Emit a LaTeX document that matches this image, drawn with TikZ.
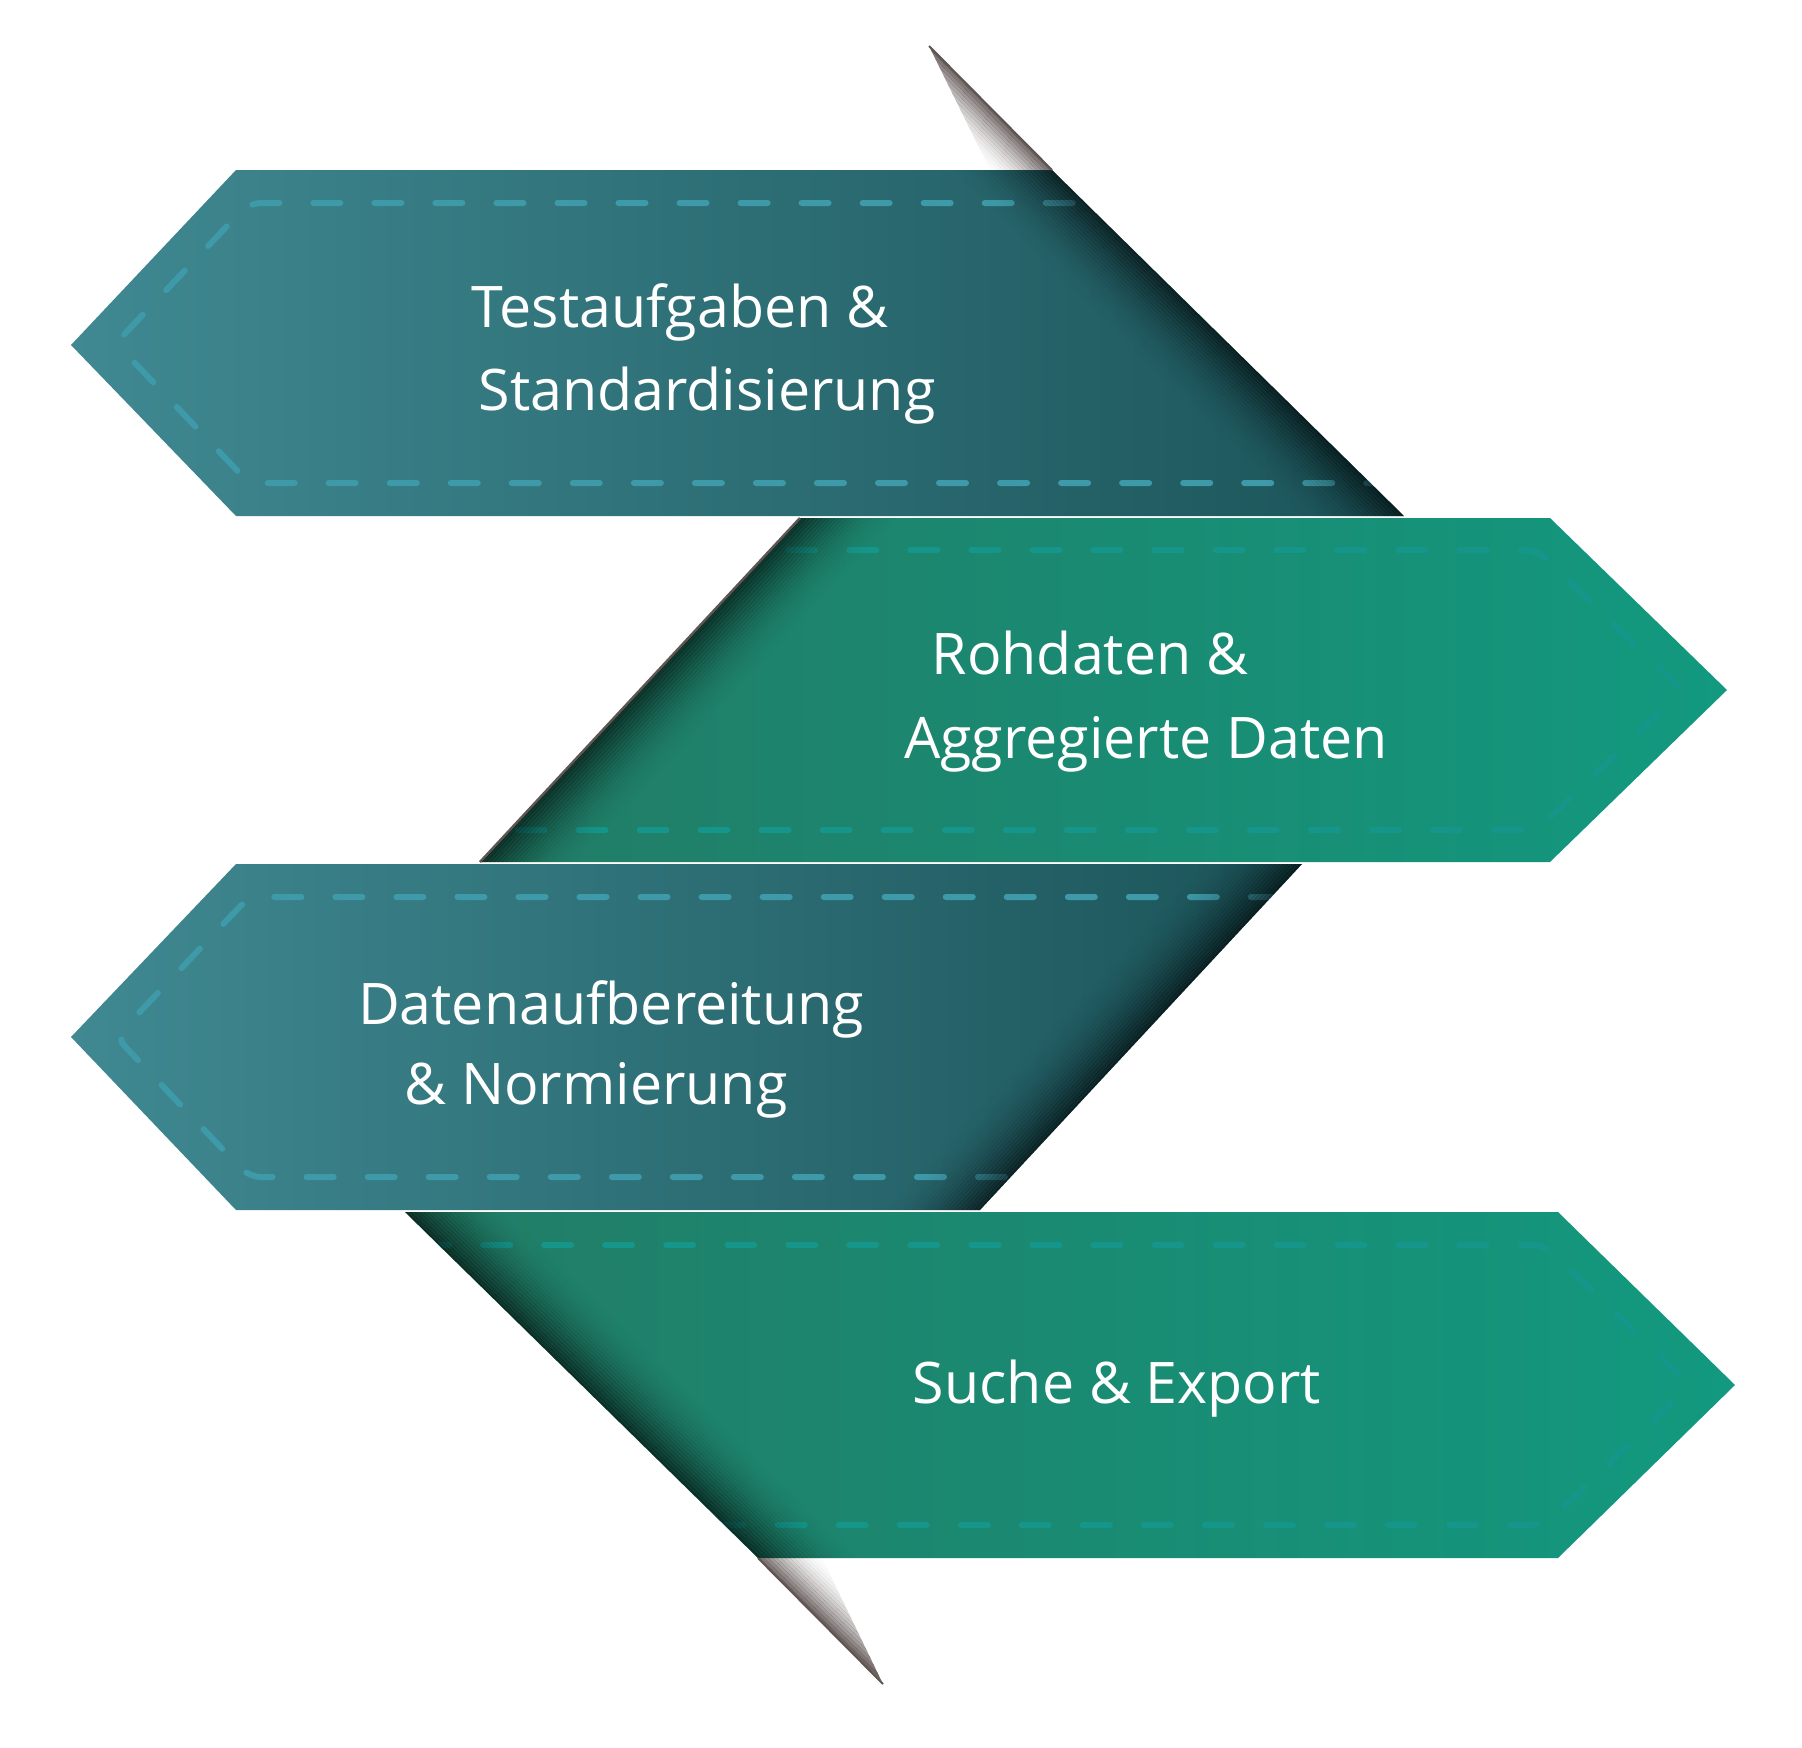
\documentclass[tikz,border=0pt]{standalone}
\usepackage{fontspec}
\setmainfont{Open Sans}
\usetikzlibrary{calc}

\definecolor{tealleft}{HTML}{408992}
\definecolor{tealmid}{HTML}{31787F}
\definecolor{tealright}{HTML}{1B5459}
\definecolor{greenleft}{HTML}{227C66}
\definecolor{greenmid}{HTML}{1F8A70}
\definecolor{greenright}{HTML}{12997F}
\definecolor{dashteal}{HTML}{3E9AA8}
\definecolor{dashgreen}{HTML}{16968A}
\definecolor{foldgray}{HTML}{5E5452}

% band outlines (pixel grid, y downwards)
\def\bandA{(71,345) -- (236,170) -- (1052,170) -- (1404,516) -- (236,516) -- cycle}
\def\bandB{(800,518) -- (1550,518) -- (1727,690) -- (1550,862) -- (480,862) -- cycle}
\def\bandC{(71,1037) -- (236,864) -- (1302,864) -- (980,1210) -- (236,1210) -- cycle}
\def\bandD{(405,1212) -- (1558,1212) -- (1735,1385) -- (1558,1558) -- (758,1558) -- cycle}

\begin{document}
\begin{tikzpicture}[
  x=0.01cm, y=-0.01cm,
  tealband/.style={left color=tealleft, middle color=tealmid, right color=tealright},
  greenband/.style={left color=greenleft, middle color=greenmid, right color=greenright},
  seam/.style={draw=#1, line width=0.06cm, line cap=round,
    dash pattern=on 0.27cm off 0.34cm, rounded corners=0.12cm},
  edgeshade/.style={black, line width=0.032cm},
  foldshade/.style={foldgray, line width=0.032cm},
  bandtext/.style={font=\fontsize{16.3}{23.6}\selectfont, text=white, anchor=base},
]

\useasboundingbox (0,0) rectangle (1802,1748);
\fill[white] (0,0) rectangle (1802,1748);

% === BAND 1 ===
\shade[tealband] \bandA;
\begin{scope}
  \clip \bandA;
  \draw[seam=dashteal] (1500,203) -- (249,203) -- (116,343) -- (249,483) -- (1500,483);
  \foreach \k [evaluate=\k as \op using {0.6*(1-\k/25)^2}] in {0,...,24}
    \draw[edgeshade, opacity=\op]
      ($(982,101)+(-2.10*\k,2.14*\k)$) -- ($(1474,585)+(-2.10*\k,2.14*\k)$);
\end{scope}

% fold above band 1
\begin{scope}
  \clip (929,46) -- (1052,170) -- (990,170) -- cycle;
  \foreach \k [evaluate=\k as \op using {0.9*(1-\k/16)^2}] in {0,...,15}
    \draw[foldshade, opacity=\op]
      ($(900,17)+(-2.10*\k,2.14*\k)$) -- ($(1080,199)+(-2.10*\k,2.14*\k)$);
\end{scope}
\draw[foldgray, line width=0.02cm] (929,46) -- (1052,170);

% === BAND 2 ===
\shade[greenband] \bandB;
\begin{scope}
  \clip \bandB;
  \draw[seam=dashgreen] (300,550) -- (1537,550) -- (1682,690) -- (1537,830) -- (300,830);
  \foreach \k [evaluate=\k as \op using {0.6*(1-\k/25)^2}] in {0,...,24}
    \draw[edgeshade, opacity=\op]
      ($(865,448)+(2.20*\k,2.04*\k)$) -- ($(416,931)+(2.20*\k,2.04*\k)$);
\end{scope}
\draw[foldgray, line width=0.025cm] (800,518) -- (480,862);

% === BAND 3 ===
\shade[tealband] \bandC;
\begin{scope}
  \clip \bandC;
  \draw[seam=dashteal] (1400,897) -- (249,897) -- (116,1037) -- (249,1177) -- (1400,1177);
  \foreach \k [evaluate=\k as \op using {0.6*(1-\k/25)^2}] in {0,...,24}
    \draw[edgeshade, opacity=\op]
      ($(1366,795)+(-2.20*\k,-2.04*\k)$) -- ($(916,1279)+(-2.20*\k,-2.04*\k)$);
\end{scope}

% === BAND 4 ===
\shade[greenband] \bandD;
\begin{scope}
  \clip \bandD;
  \draw[seam=dashgreen] (300,1245) -- (1545,1245) -- (1690,1385) -- (1545,1525) -- (300,1525);
  \foreach \k [evaluate=\k as \op using {0.6*(1-\k/25)^2}] in {0,...,24}
    \draw[edgeshade, opacity=\op]
      ($(334,1143)+(2.10*\k,-2.14*\k)$) -- ($(829,1627)+(2.10*\k,-2.14*\k)$);
\end{scope}

% fold below band 4
\begin{scope}
  \clip (758,1558) -- (883,1684) -- (822,1558) -- cycle;
  \foreach \k [evaluate=\k as \op using {0.9*(1-\k/16)^2}] in {0,...,15}
    \draw[foldshade, opacity=\op]
      ($(687,1489)+(2.10*\k,-2.14*\k)$) -- ($(935,1731)+(2.10*\k,-2.14*\k)$);
\end{scope}
\draw[foldgray, line width=0.02cm] (758,1558) -- (883,1684);

% === LABELS ===
\node[bandtext] (tasks) at (680,327) {Testaufgaben \&};
\node[bandtext] (tasks2) at (707,410) {Standardisierung};
\node[bandtext] (rawdata) at (1090,674) {Rohdaten \&};
\node[bandtext] (rawdata2) at (1146,758) {Aggregierte Daten};
\node[bandtext] (prep) at (611,1024) {Datenaufbereitung};
\node[bandtext] (prep2) at (596,1104) {\& Normierung};
\node[bandtext] (export) at (1117,1403) {Suche \& Export};

\end{tikzpicture}
\end{document}
